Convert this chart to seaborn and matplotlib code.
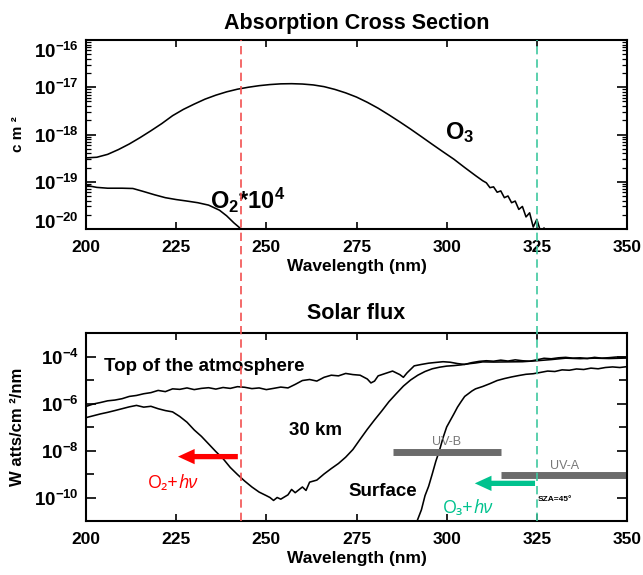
import matplotlib
matplotlib.use("Agg")
import matplotlib.pyplot as plt
import matplotlib.transforms as mtrans
import pandas as pd
import seaborn as sns
from matplotlib import font_manager
from matplotlib.lines import Line2D

# --- cross sections (cm^2) ---
o3_wl = [200, 203, 206, 209, 212, 215, 218, 221, 224, 227, 230, 233, 236, 239, 242,
         245, 248, 251, 254, 257, 260, 263, 266, 269, 272, 275, 278, 281, 284, 287,
         290, 293, 296, 299, 302, 305, 308, 310, 311, 312, 313, 314, 315, 316, 317,
         318, 319, 320, 321, 322, 323, 324, 325, 326, 327, 328]
o3_xs = [3.2e-19, 3.3e-19, 3.8e-19, 4.8e-19, 6.3e-19, 8.6e-19, 1.2e-18, 1.7e-18, 2.5e-18,
         3.4e-18, 4.4e-18, 5.6e-18, 6.8e-18, 8.0e-18, 9.1e-18, 1.0e-17, 1.08e-17, 1.14e-17,
         1.18e-17, 1.19e-17, 1.17e-17, 1.12e-17, 1.03e-17, 9.0e-18, 7.6e-18, 6.2e-18, 4.8e-18,
         3.6e-18, 2.6e-18, 1.85e-18, 1.3e-18, 9.0e-19, 6.2e-19, 4.3e-19, 3.0e-19, 2.0e-19,
         1.35e-19, 1.05e-19, 9.5e-20, 7.5e-20, 7.8e-20, 6.0e-20, 6.4e-20, 4.6e-20, 5.0e-20,
         3.6e-20, 3.9e-20, 2.6e-20, 3.0e-20, 1.8e-20, 2.2e-20, 1.1e-20, 1.6e-20, 9e-21,
         1.05e-20, 8e-21]
o2_wl = [200, 203, 206, 210, 213, 216, 219, 222, 225, 228, 231, 234, 237, 239, 241, 243, 244]
o2_xs = [8.4e-20, 7.6e-20, 7.3e-20, 7.3e-20, 7.2e-20, 6.2e-20, 5.3e-20, 4.6e-20, 4.2e-20,
         3.9e-20, 3.6e-20, 3.2e-20, 2.5e-20, 1.9e-20, 1.35e-20, 1.0e-20, 8e-21]

# --- solar flux (W/cm^2/nm) ---
toa_wl = [200, 202, 204, 206, 208, 210, 212, 214, 216, 218, 220, 222, 224, 226, 228, 230,
          232, 234, 236, 238, 240, 242, 244, 246, 248, 250, 252, 254, 256, 258, 260, 262,
          264, 266, 268, 270, 272, 274, 276, 278, 279, 280, 281, 283, 285, 287, 288, 289,
          291, 293, 295, 297, 299, 301, 303, 305, 307, 309, 311, 313, 315, 317, 319, 321,
          323, 325, 327, 329, 331, 333, 335, 337, 339, 341, 343, 345, 347, 350]
toa_flux = [7.5e-7, 9.5e-7, 1.1e-6, 1.3e-6, 1.4e-6, 1.6e-6, 2.0e-6, 2.2e-6, 2.6e-6, 2.9e-6,
            3.6e-6, 3.2e-6, 4.2e-6, 4.0e-6, 4.6e-6, 3.9e-6, 4.4e-6, 4.7e-6, 4.1e-6, 4.8e-6,
            4.4e-6, 5.2e-6, 4.9e-6, 4.3e-6, 4.6e-6, 3.9e-6, 4.4e-6, 5.0e-6, 4.6e-6, 6.5e-6,
            9.5e-6, 1.05e-5, 9.0e-6, 1.3e-5, 1.6e-5, 1.5e-5, 1.9e-5, 1.7e-5, 1.6e-5, 1.1e-5,
            7.5e-6, 9e-6, 1.5e-5, 1.9e-5, 2.4e-5, 1.7e-5, 1.3e-5, 2.0e-5, 4.0e-5, 4.6e-5,
            5.2e-5, 5.6e-5, 6.0e-5, 5.7e-5, 5.0e-5, 4.6e-5, 5.5e-5, 6.2e-5, 6.6e-5, 6.3e-5,
            7.0e-5, 6.4e-5, 7.2e-5, 6.6e-5, 6.3e-5, 7.2e-5, 8.4e-5, 8.0e-5, 8.8e-5, 9.2e-5,
            8.5e-5, 8.8e-5, 8.2e-5, 9.2e-5, 8.5e-5, 8.9e-5, 9.5e-5, 9.3e-5]
km30_wl = [200, 202, 204, 206, 208, 210, 212, 214, 216, 218, 220, 222, 224, 226, 228, 230,
           232, 234, 236, 238, 240, 242, 244, 246, 248, 250, 251, 252, 253, 254, 256, 257,
           258, 260, 261, 262, 264, 266, 268, 270, 272, 274, 276, 278, 280, 282, 284, 286,
           288, 290, 292, 294, 296, 298, 300, 302, 304, 306, 308, 310, 313, 317, 321, 325,
           329, 333, 337, 341, 345, 350]
km30_flux = [2.5e-7, 3.0e-7, 3.6e-7, 4.2e-7, 5.0e-7, 6.0e-7, 7.2e-7, 8.3e-7, 7.0e-7, 7.6e-7,
             6.0e-7, 5.0e-7, 4.4e-7, 2.8e-7, 1.6e-7, 7.5e-8, 4.0e-8, 1.9e-8, 9e-9, 4.5e-9,
             1.9e-9, 9.5e-10, 5.0e-10, 2.8e-10, 1.7e-10, 1.2e-10, 1.0e-10, 7.5e-11, 1.0e-10,
             8.5e-11, 1.3e-10, 2.2e-10, 1.6e-10, 2.8e-10, 2.0e-10, 4.5e-10, 5.5e-10, 1.0e-9,
             1.7e-9, 2.8e-9, 5.2e-9, 1.1e-8, 3.0e-8, 8.0e-8, 2.0e-7, 4.8e-7, 1.2e-6, 2.6e-6,
             5.5e-6, 1.0e-5, 1.6e-5, 2.3e-5, 3.0e-5, 3.5e-5, 3.9e-5, 4.1e-5, 4.4e-5, 4.9e-5,
             5.3e-5, 5.9e-5, 5.8e-5, 5.9e-5, 6.0e-5, 6.6e-5, 7.4e-5, 8.5e-5, 8.1e-5, 8.5e-5,
             8.2e-5, 8.6e-5]
sfc_wl = [291.8, 293, 294, 295, 296, 297, 298, 299, 300, 301, 302, 303, 304, 305, 306, 307,
          308, 310, 312, 314, 316, 318, 320, 322, 324, 326, 328, 330, 332, 334, 336, 338,
          340, 342, 344, 346, 348, 350]
sfc_flux = [1e-11, 3e-11, 1.2e-10, 3e-10, 1.0e-9, 3.5e-9, 1.0e-8, 3.5e-8, 1.0e-7, 1.9e-7,
            3.6e-7, 7e-7, 1.2e-6, 2.0e-6, 2.6e-6, 3.4e-6, 4.2e-6, 5.3e-6, 7.0e-6, 9.5e-6,
            1.15e-5, 1.35e-5, 1.55e-5, 1.75e-5, 1.85e-5, 2.1e-5, 2.4e-5, 2.3e-5, 2.7e-5, 2.6e-5,
            2.95e-5, 2.8e-5, 3.2e-5, 3.0e-5, 3.4e-5, 3.6e-5, 3.4e-5, 3.7e-5]

x_ticks = [200, 225, 250, 275, 300, 325, 350]
xs_exps = [-20, -19, -18, -17, -16]
flux_exps = [-10, -8, -6, -4]
flux_minor_exps = [-11, -9, -7, -5, -3]
o2_cut, o3_cut = 243, 325
uvb_band, uva_band = (285, 315), (315, 350)

sns.set_style("ticks")
FONT = "Liberation Sans"
plt.rcParams["font.family"] = [FONT, "DejaVu Sans"]
plt.rcParams["font.weight"] = "bold"
plt.rcParams["mathtext.fontset"] = "custom"
plt.rcParams["mathtext.rm"] = FONT + ":bold"
plt.rcParams["mathtext.bf"] = FONT + ":bold"
plt.rcParams["mathtext.default"] = "rm"
for key in ("text.color", "axes.labelcolor", "axes.edgecolor", "xtick.color", "ytick.color"):
    plt.rcParams[key] = "black"


def has_italic(fam):
    return any(f.name == fam and f.style == "italic" for f in font_manager.fontManager.ttflist)


SOFT = next((f for f in ["Open Sans", "Lato", "Noto Sans", "Liberation Sans"] if has_italic(f)),
            "DejaVu Sans")

fig = plt.figure(figsize=(6.43, 5.75), dpi=100)
L, W = 86 / 643, 541 / 643
ax1 = fig.add_axes([L, 1 - 229 / 575, W, 189 / 575])
ax2 = fig.add_axes([L, 1 - 521 / 575, W, 188 / 575])

xs_df = pd.concat([pd.DataFrame({"wl": o3_wl, "val": o3_xs, "gas": "O3"}),
                   pd.DataFrame({"wl": o2_wl, "val": o2_xs, "gas": "O2"})])
flux_df = pd.concat([pd.DataFrame({"wl": toa_wl, "val": toa_flux, "lev": "toa"}),
                     pd.DataFrame({"wl": km30_wl, "val": km30_flux, "lev": "30km"}),
                     pd.DataFrame({"wl": sfc_wl, "val": sfc_flux, "lev": "sfc"})])

sns.lineplot(data=xs_df, x="wl", y="val", units="gas", estimator=None,
             color="black", lw=1.15, ax=ax1)
sns.lineplot(data=flux_df, x="wl", y="val", units="lev", estimator=None,
             color="black", lw=1.15, ax=ax2)

for ax in (ax1, ax2):
    ax.set_yscale("log")
    ax.set_xlim(200, 350)
    ax.set_xticks(x_ticks)
    ax.set_xticklabels([str(t) for t in x_ticks])
    ax.set_xlabel("Wavelength (nm)", fontsize=12.5, weight="bold", labelpad=3)
    ax.set_ylabel("")
    for s in ax.spines.values():
        s.set_linewidth(1.5)
        s.set_visible(True)
    ax.tick_params(axis="x", which="both", direction="in", top=True, length=5,
                   width=1.2, labelsize=12.5, pad=8)
    ax.tick_params(axis="y", which="major", direction="in", right=True, length=7,
                   width=1.2, labelsize=13.5, pad=5)
    ax.tick_params(axis="y", which="minor", direction="in", right=True, length=3.5,
                   width=0.9)

ax1.set_ylim(1e-20, 1e-16)
ax1.set_yticks([10.0 ** e for e in xs_exps])
ax1.set_yticklabels([r"$10^{%d}$" % e for e in xs_exps])
ax1.yaxis.set_minor_locator(matplotlib.ticker.LogLocator(base=10, subs=range(2, 10), numticks=20))
ax1.yaxis.set_minor_formatter(matplotlib.ticker.NullFormatter())
ax1.set_title("Absorption Cross Section", fontsize=15.5, weight="bold", pad=8)
ax1.text(-0.126, 0.5, "c m ²", transform=ax1.transAxes, rotation=90, fontsize=11,
         ha="center", va="center")
ax1.text(303.5, 1.1e-18, r"O$_3$", fontsize=17, ha="center", va="center")
ax1.text(234.5, 4e-20, r"O$_2$*10$^4$", fontsize=17, ha="left", va="center")

ax2.set_ylim(1e-11, 1e-3)
ax2.set_yticks([10.0 ** e for e in flux_exps])
ax2.set_yticklabels([r"$10^{%d}$" % e for e in flux_exps])
ax2.set_yticks([10.0 ** e for e in flux_minor_exps], minor=True)
ax2.yaxis.set_minor_formatter(matplotlib.ticker.NullFormatter())
ax2.tick_params(axis="y", which="minor", length=6, width=1.2)
ax2.set_title("Solar flux", fontsize=15.5, weight="bold", pad=10)
ax2.text(-0.126, 0.5, "W atts/cm ²/nm", transform=ax2.transAxes, rotation=90, fontsize=12,
         ha="center", va="center")

# shift edge labels of the top panel inward like the original
labs = ax1.get_yticklabels()
labs[0].set_transform(labs[0].get_transform() + mtrans.ScaledTranslation(0, 6 / 72, fig.dpi_scale_trans))
labs[-1].set_transform(labs[-1].get_transform() + mtrans.ScaledTranslation(0, -7 / 72, fig.dpi_scale_trans))

ax2.text(205, 3.9e-5, "Top of the atmosphere", fontsize=13.5, ha="left", va="center")
ax2.text(263.5, 7e-8, "30 km", fontsize=13.5, ha="center", va="center")
ax2.text(282.2, 1.8e-10, "Surface", fontsize=13.5, ha="center", va="center")

# UV bands
bar_y = {"uvb": 9e-9, "uva": 9.5e-10}
ax2.plot(uvb_band, [bar_y["uvb"]] * 2, color="#6b6b6b", lw=5, solid_capstyle="butt")
ax2.plot(uva_band, [bar_y["uva"]] * 2, color="#6b6b6b", lw=5, solid_capstyle="butt")
ax2.text(sum(uvb_band) / 2, 2.3e-8, "UV-B", fontsize=9, color="#777777",
         weight="normal", ha="center", va="center")
ax2.text(332.8, 2.1e-9, "UV-A", fontsize=9, color="#777777",
         weight="normal", ha="center", va="center")
ax2.text(325.3, 8.3e-11, "SZA=45°", fontsize=6, ha="left", va="center")

# photolysis arrows
red, green = "#ff0000", "#00c28e"
arrow = "simple,head_length=12,head_width=11,tail_width=3.8"
ax2.annotate("", xy=(225.5, 5.5e-9), xytext=(242.1, 5.5e-9),
             arrowprops=dict(arrowstyle=arrow, mutation_scale=1, color=red, lw=0,
                             shrinkA=0, shrinkB=0))
ax2.annotate("", xy=(307.8, 4e-10), xytext=(324.5, 4e-10),
             arrowprops=dict(arrowstyle=arrow, mutation_scale=1, color=green, lw=0,
                             shrinkA=0, shrinkB=0))
for x0, y0, gas, col in ((217.2, 4e-10, "O₂+", red), (299.0, 3.7e-11, "O₃+", green)):
    t = ax2.text(x0, y0, gas, color=col, fontsize=13, family=[SOFT, "DejaVu Sans"],
                 weight="normal", ha="left", va="center")
    ax2.annotate("hν", xy=(1, 0), xycoords=t, color=col, fontsize=13,
                 family=[SOFT, "DejaVu Sans"], weight="normal", style="italic",
                 ha="left", va="bottom")

# cut-off wavelengths spanning both panels
for wl, col in ((o2_cut, "#f25050"), (o3_cut, "#40c8a0")):
    xf = L + (wl - 200) / 150 * W
    fig.add_artist(Line2D([xf, xf], [1 - 521 / 575, 1 - 40 / 575], transform=fig.transFigure,
                          color=col, lw=1.2, ls=(0, (5, 3))))

fig.savefig("out.png", dpi=100)
